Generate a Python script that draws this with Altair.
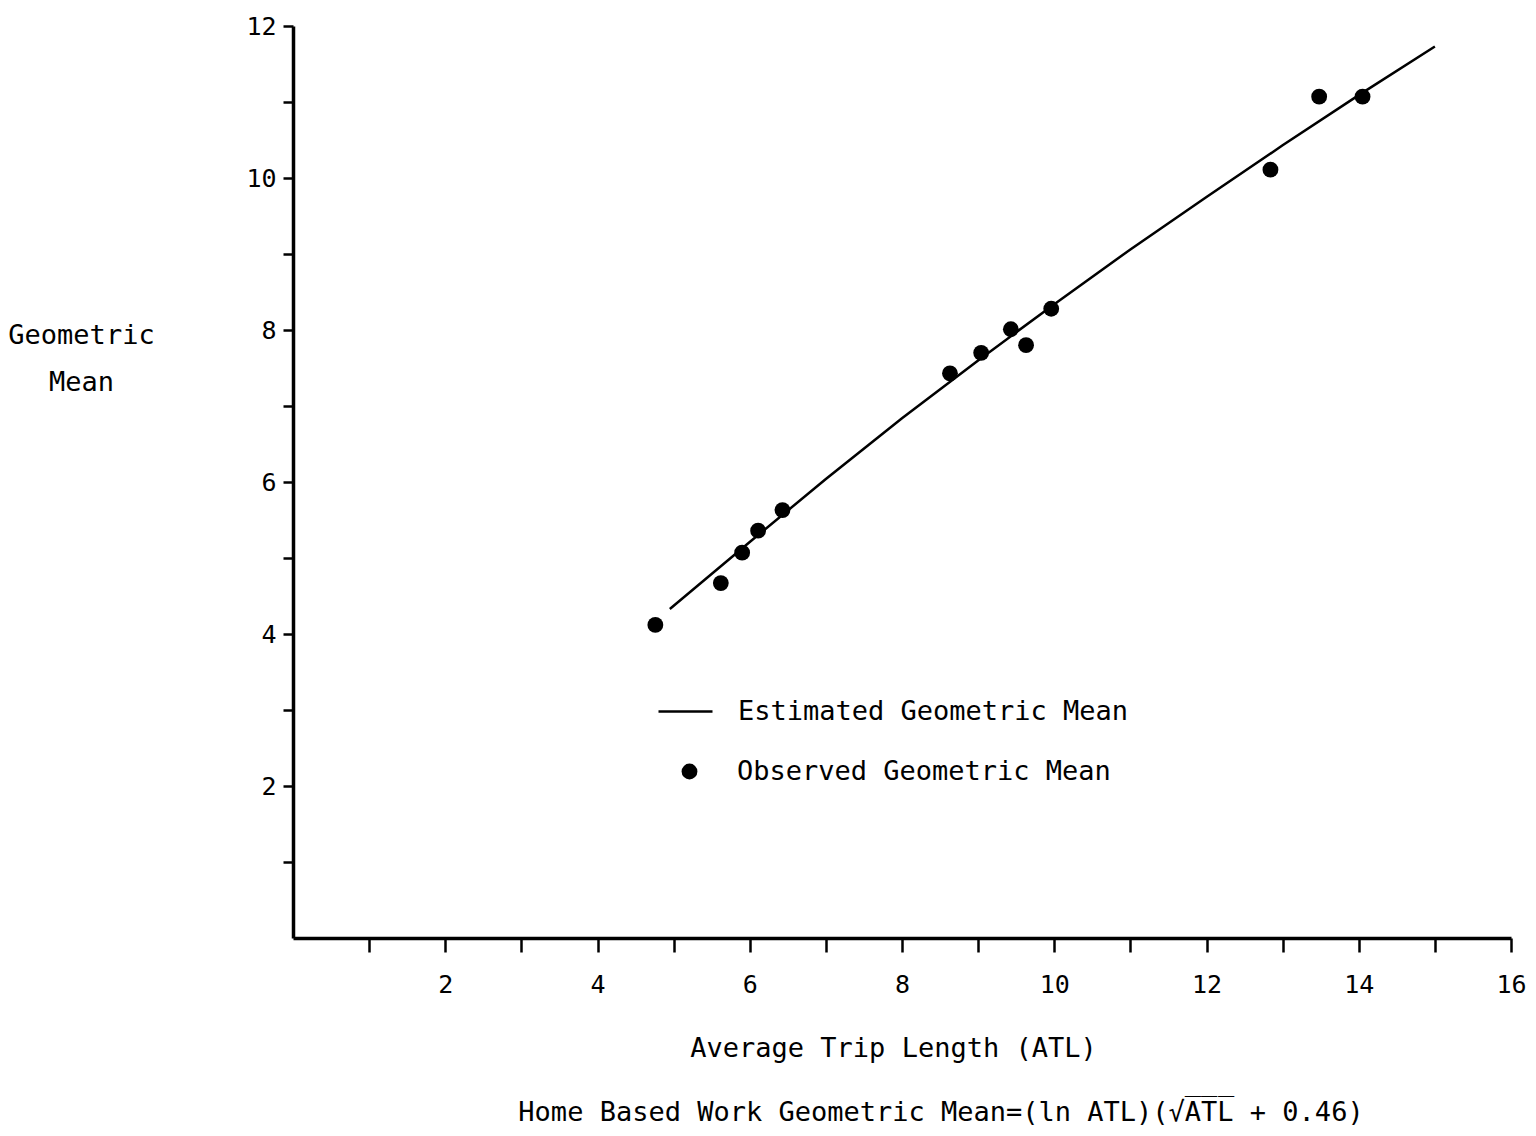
import altair as alt
import pandas as pd

FONT = "DejaVu Sans Mono"

# Observed geometric mean points
obs_atl = [4.76, 5.62, 5.90, 6.11, 6.43, 8.63, 9.04, 9.43, 9.63, 9.96, 12.84, 13.48, 14.05]
obs_gm = [4.12, 4.67, 5.07, 5.36, 5.63, 7.43, 7.70, 8.01, 7.80, 8.28, 10.11, 11.07, 11.07]

# Estimated geometric mean curve
est_atl = [4.95, 6, 7, 8, 9, 10, 11, 12, 13, 14, 15]
est_gm = [4.33, 5.21, 6.04, 6.84, 7.60, 8.34, 9.06, 9.75, 10.43, 11.09, 11.73]

x_ticks = list(range(1, 17))
y_ticks = list(range(1, 13))

obs = pd.DataFrame({"atl": obs_atl, "gm": obs_gm, "s": "Observed Geometric Mean"})
est = pd.DataFrame({"atl": est_atl, "gm": est_gm, "s": "Estimated Geometric Mean"})

x_enc = alt.X(
    "atl:Q",
    scale=alt.Scale(domain=[0, 16], nice=False, zero=True),
    axis=alt.Axis(
        values=x_ticks, format="d", labelFlush=False, labelOverlap=False,
        labelExpr="datum.value % 2 == 0 ? datum.label : ''",
        title="Average Trip Length (ATL)",
        titleX=600, titleY=110, titleBaseline="middle", titleAnchor="start", titleAlign="center",
        tickSize=14, labelPadding=20,
    ),
)
y_enc = alt.Y(
    "gm:Q",
    scale=alt.Scale(domain=[0, 12], nice=False),
    axis=alt.Axis(
        values=y_ticks, format="d", labelFlush=False, labelOverlap=False,
        labelExpr="datum.value % 2 == 0 ? datum.label : ''",
        title=["Geometric", "Mean"],
        titleAngle=0, titleX=-212, titleY=309, titleBaseline="middle", titleAlign="center",
        titleLineHeight=47, titleAnchor="start",
        tickSize=10, labelPadding=7,
    ),
)

line = alt.Chart(est).mark_line(color="black", strokeWidth=2.5).encode(
    x=x_enc, y=y_enc,
    color=alt.Color("s:N", scale=alt.Scale(range=["black"]),
                    legend=alt.Legend(title=None, orient="none", legendX=364, legendY=657,
                                      symbolType="stroke", symbolSize=2916, symbolStrokeWidth=2.5,
                                      labelOffset=24, padding=0, labelFontSize=27, labelFont=FONT,
                                      labelColor="black", labelLimit=0)),
)

pts = alt.Chart(obs).mark_point(filled=True, color="black", size=250, opacity=1).encode(
    x="atl:Q", y="gm:Q",
    shape=alt.Shape("s:N", scale=alt.Scale(range=["circle"]),
                    legend=alt.Legend(title=None, orient="none", legendX=383, legendY=732,
                                      symbolSize=250, symbolFillColor="black", symbolStrokeColor="black",
                                      symbolOpacity=1,
                                      labelOffset=34, padding=0, labelFontSize=27, labelFont=FONT,
                                      labelColor="black", labelLimit=0)),
)

chart = (
    alt.layer(line, pts)
    .properties(
        width=1218, height=912,
        autosize=alt.AutoSizeParams(type="none"),
        padding={"left": 285, "top": 18, "right": 16, "bottom": 188},
        title=alt.TitleParams(
            text="Home Based Work Geometric Mean=(ln ATL)(√A̅T̅L̅ + 0.46)",
            orient="bottom", anchor="middle", dx=39, offset=39,
            font=FONT, fontSize=27, fontWeight="normal", color="black",
        ),
    )
    .configure_view(stroke=None)
    .configure_axis(
        grid=False, domainColor="black", domainWidth=3.5, tickColor="black", tickWidth=2.5,
        labelFont=FONT, labelFontSize=25, labelColor="black",
        titleFont=FONT, titleFontSize=27, titleFontWeight="normal", titleColor="black",
    )
)

chart.save("out.html", embed_options={"renderer": "svg", "actions": False})
